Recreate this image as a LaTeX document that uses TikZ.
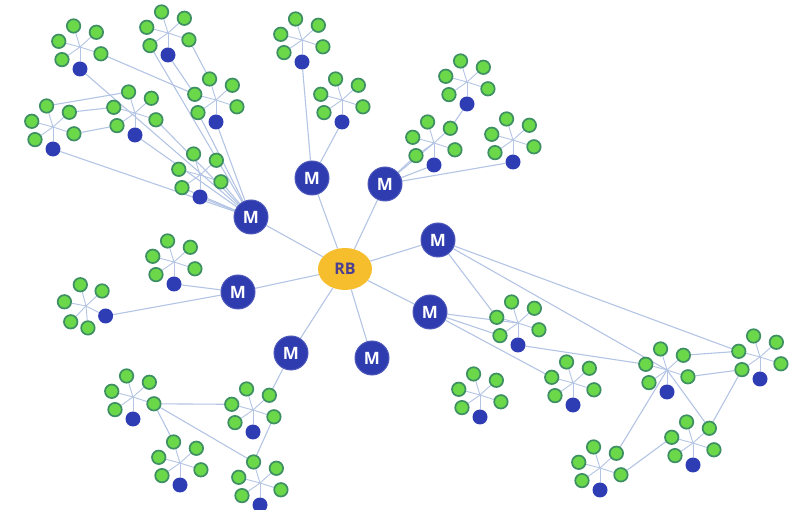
\documentclass[tikz,border=0pt]{standalone}
\usepackage{fontspec}
\setsansfont{Open Sans}
\usetikzlibrary{shapes.geometric}
\pgfdeclarelayer{bg}
\pgfsetlayers{bg,main}
\definecolor{edgec}{HTML}{B3C4E4}
\definecolor{gfill}{HTML}{6BD849}
\definecolor{gdraw}{HTML}{3E8F63}
\definecolor{bfill}{HTML}{2F3DB5}
\definecolor{mfill}{HTML}{2F3CAF}
\definecolor{rbfill}{HTML}{F6BD2C}
\definecolor{rbtext}{HTML}{4B3F92}
\tikzset{
 gdot/.style={circle, fill=gfill, draw=gdraw, line width=1.7pt, minimum size=13.5pt, inner sep=0pt},
 bdot/.style={circle, fill=bfill, draw=none, minimum size=15pt, inner sep=0pt},
 mnode/.style={circle, fill=mfill, draw=mfill!85!white, line width=1pt, minimum size=34pt, inner sep=0pt, text=white, font=\sffamily\bfseries\fontsize{17}{17}\selectfont},
 rbnode/.style={ellipse, fill=rbfill, minimum width=54pt, minimum height=42pt, inner sep=0pt, text=rbtext, font=\sffamily\bfseries\fontsize{16}{16}\selectfont},
 edge/.style={draw=edgec, line width=1.1pt},
 spoke/.style={draw=edgec, line width=0.9pt},
}
% name, x, y, blue angle, five green angles (image coordinates, clockwise)
\newcommand\clus[9]{%
  \coordinate (#1) at (#2,#3);
  \node[bdot] (#1-b) at ([shift={(#4:22)}]#1) {};
  \node[gdot] (#1-1) at ([shift={(#5:22)}]#1) {};
  \node[gdot] (#1-2) at ([shift={(#6:22)}]#1) {};
  \node[gdot] (#1-3) at ([shift={(#7:22)}]#1) {};
  \node[gdot] (#1-4) at ([shift={(#8:22)}]#1) {};
  \node[gdot] (#1-5) at ([shift={(#9:22)}]#1) {};
  \begin{pgfonlayer}{bg}
  \foreach \s in {b,1,2,3,4,5} \draw[spoke] (#1) -- (#1-\s);
  \end{pgfonlayer}
}
\newcommand\cl[3]{\clus{#1}{#2}{#3}{90}{145}{195}{253}{318}{18}}
\begin{document}
\begin{tikzpicture}[x=1pt,y=-1pt]
\useasboundingbox (0,0) rectangle (796,510);
% central node and M nodes
\node[rbnode] (RB) at (345,269) {RB};
\node[mnode] (Ma) at (251,217) {M};
\node[mnode] (Mb) at (312,178) {M};
\node[mnode] (Mc) at (385,184) {M};
\node[mnode] (Md) at (438,240) {M};
\node[mnode] (Me) at (430,312) {M};
\node[mnode] (Mf) at (372,358) {M};
\node[mnode] (Mg) at (291,353) {M};
\node[mnode] (Mh) at (238,292) {M};
% clusters
\cl{C1}{80}{47}
\cl{C2}{168}{33}
\cl{C3}{216}{100}
\cl{C4}{135}{113}
\cl{C5}{53}{127}
\cl{C6}{200}{175}
\cl{C7}{302}{40}
\cl{C8}{342}{100}
\cl{C9}{467}{82}
\cl{C10}{434}{143}
\cl{C11}{513}{140}
\cl{C12}{174}{262}
\clus{C13}{86}{306}{27}{134}{191}{255}{317}{85}
\cl{C14}{133}{397}
\cl{C15}{253}{410}
\cl{C16}{180}{463}
\cl{C17}{260}{483}
\cl{C18}{518}{323}
\cl{C19}{573}{383}
\cl{C20}{480}{395}
\cl{C21}{667}{370}
\cl{C22}{760}{357}
\cl{C23}{693}{443}
\cl{C24}{600}{468}
\begin{pgfonlayer}{bg}
\foreach \m in {Ma,Mb,Mc,Md,Me,Mf,Mg,Mh} \draw[edge] (RB) -- (\m);
% top-left group
\foreach \t in {C1-b,C2-1,C3-b,C3-1,C4-b,C4-5,C5-b,C6-1,C6-b,C6-5} \draw[edge] (Ma) -- (\t);
\draw[edge] (C1-5) -- (C3-2);
\draw[edge] (C2-b) -- (C3-2);
\draw[edge] (C2-5) -- (C3-3);
\draw[edge] (C5-3) -- (C4-3);
\draw[edge] (C5-4) -- (C4-2);
\draw[edge] (C5-5) -- (C4-1);
% top group
\draw[edge] (Mb) -- (C7-b);
\draw[edge] (Mb) -- (C8-b);
% top-right group
\draw[edge] (Mc) -- (C10-1);
\draw[edge] (Mc) -- (C10);
\draw[edge] (Mc) -- (C10-b);
\draw[edge] (Mc) -- (C11-b);
\draw[edge] (C9-b) -- (C10-4);
% left group
\draw[edge] (Mh) -- (C12-b);
\draw[edge] (Mh) -- (C13-b);
% bottom-left group
\draw[edge] (Mg) -- (C15-4);
\draw[edge] (C14-5) -- (C15-2);
\draw[edge] (C14-5) -- (C17-3);
\draw[edge] (C14-5) -- (C16-3);
\draw[edge] (C15-5) -- (C17-3);
% right group
\draw[edge] (Md) -- (C18-2);
\draw[edge] (Md) -- (C21);
\draw[edge] (Md) -- (C22-2);
\draw[edge] (Me) -- (C18);
\draw[edge] (Me) -- (C18-1);
\draw[edge] (Me) -- (C19-2);
\draw[edge] (C18-b) -- (C21-2);
\draw[edge] (C21-4) -- (C22-2);
\draw[edge] (C21-5) -- (C22-1);
\draw[edge] (C21) -- (C23-4);
\draw[edge] (C22-1) -- (C23-4);
\draw[edge] (C21) -- (C24-4);
\draw[edge] (C24-5) -- (C23-2);
\end{pgfonlayer}
\end{tikzpicture}
\end{document}
